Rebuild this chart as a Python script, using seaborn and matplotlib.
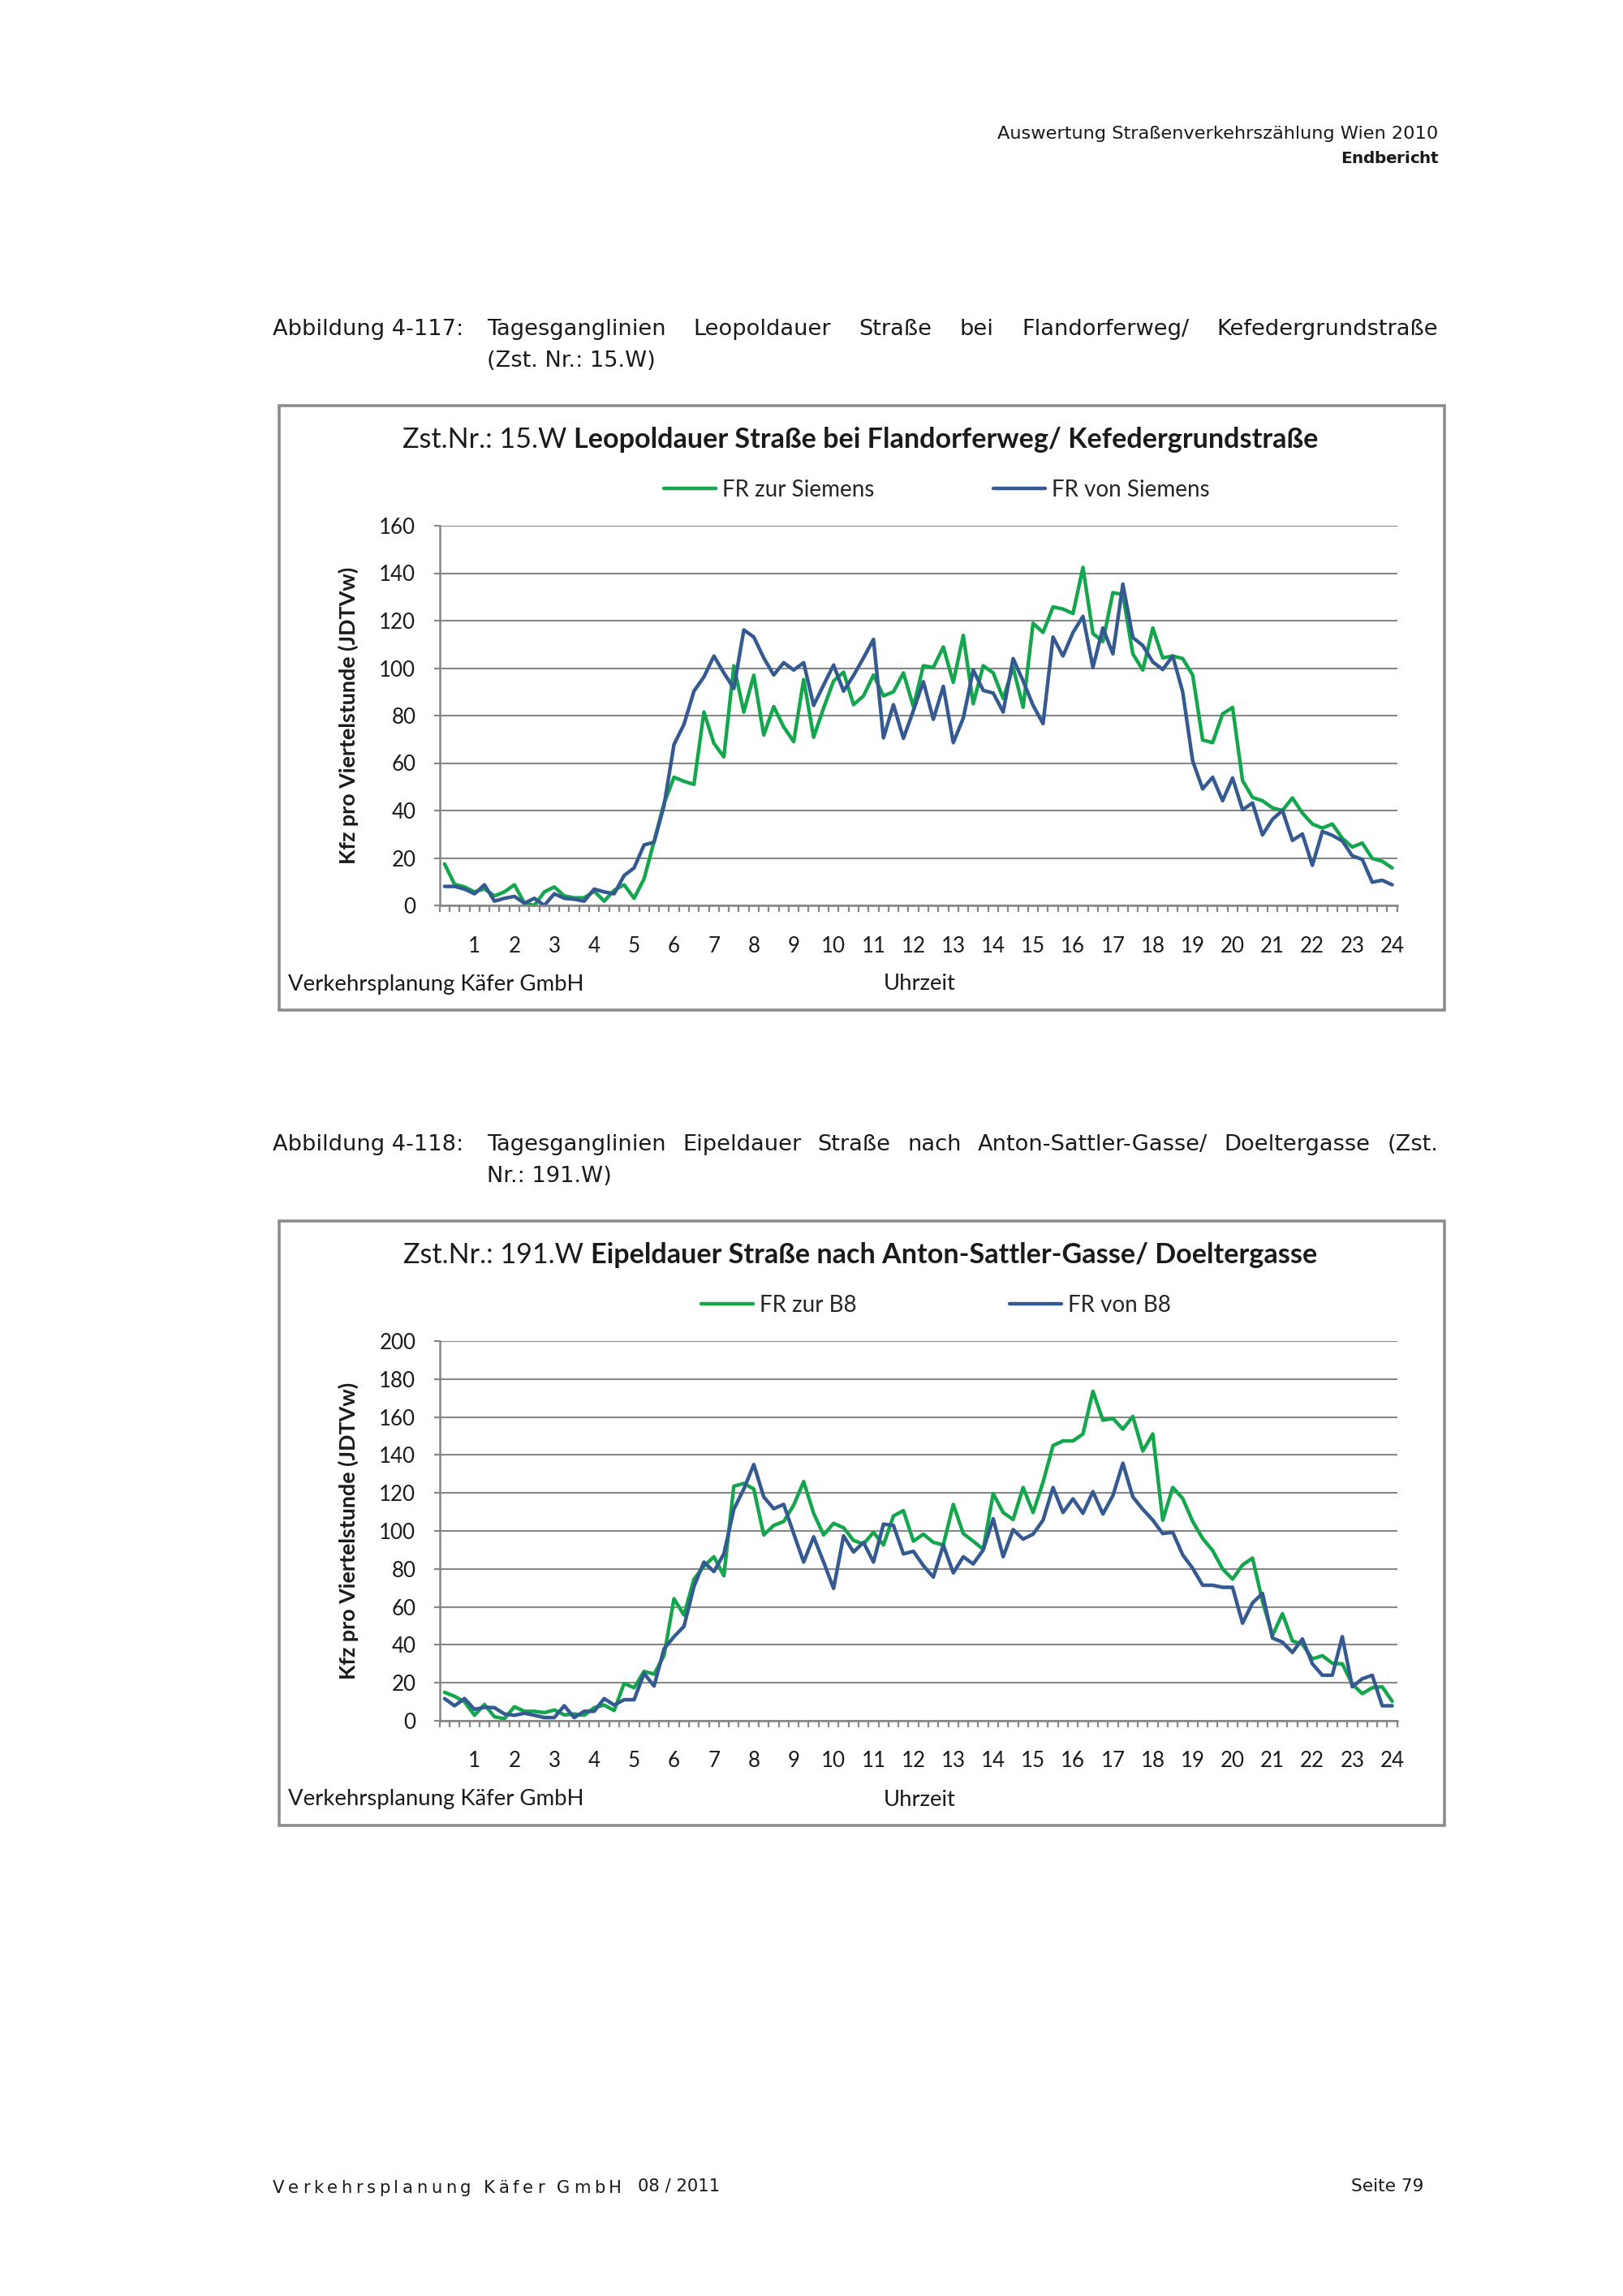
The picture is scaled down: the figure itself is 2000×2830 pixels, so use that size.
import numpy as np
import pandas as pd
import matplotlib
matplotlib.use("Agg")
import matplotlib.pyplot as plt
import seaborn as sns
from matplotlib.patches import Rectangle

# ---------------- data ----------------
hour_labels = ["1", "2", "3", "4", "5", "6", "7", "8", "9", "10", "11", "12",
               "13", "14", "15", "16", "17", "18", "19", "20", "21", "22", "23", "24"]

c1_series = ["FR zur Siemens", "FR von Siemens"]
c1_zur = [17.5, 8.9, 7.8, 5.7, 7, 4, 5.7, 8.7, 1, 0, 5.7, 7.8, 4, 3.2, 3.2, 6,
          1.8, 6.4, 8.7, 3, 11.2, 27, 43, 54, 52.3, 51, 81.5, 68.3, 62.6, 101, 81.5, 97,
          71.8, 83.8, 75.2, 69, 95.2, 70.9, 83.2, 94.6, 98.3, 84.6, 88.3, 97.1, 88.3, 90, 98, 83.8,
          101, 100.3, 108.9, 94, 113.8, 85, 101, 98, 87.2, 100.3, 83.5, 118.9, 115, 125.8, 124.9, 123,
          142.4, 114.6, 111.2, 131.8, 131, 106, 99.2, 116.9, 104.3, 105.1, 104, 97.1, 69.7, 68.6, 80.7, 83.4,
          52.6, 45.5, 44.1, 41.1, 40, 45.3, 38.9, 34.3, 32.6, 34.3, 28.3, 24.6, 26.3, 19.8, 18.6, 15.8]
c1_von = [8, 8, 6.9, 4.9, 8.7, 1.8, 3, 3.8, 0.9, 3, 0, 4.9, 3, 2.6, 1.8, 6.9,
          5.7, 4.9, 12.6, 15.8, 25.5, 26.6, 42, 67.8, 76.3, 90.3, 96.3, 105.1, 98, 91.4, 116.1, 113.1,
          104.3, 97.1, 102.3, 99.2, 102.3, 84.3, 92.9, 101.3, 90.3, 96.9, 104.3, 112.1, 70.6, 84.6, 70.4, 82.1,
          94.3, 78.4, 92.3, 68.6, 78.9, 99.2, 90.6, 89.5, 81.5, 104, 94.6, 84.3, 76.6, 113.1, 105.1, 115,
          121.8, 100.3, 116.9, 106, 135.4, 112.9, 109.5, 102.6, 99.4, 105.1, 90, 60.9, 49.1, 54, 44.1, 53.7,
          40.3, 43.2, 29.7, 36.3, 40, 27.4, 30.1, 16.9, 31.2, 29.5, 27.2, 20.9, 19.4, 9.8, 10.6, 8.7]

c2_series = ["FR zur B8", "FR von B8"]
c2_zur = [15, 12.9, 10, 2.9, 8.6, 2.1, 1.1, 7.4, 5, 5, 4.3, 5.7, 3.1, 3.6, 2.9, 6.9,
          8.3, 5.4, 19.7, 17.4, 26, 24.6, 34.3, 64.3, 55.7, 74.6, 81.4, 86.4, 76.4, 123.6, 125, 122.1,
          97.9, 102.9, 105, 113.6, 126, 109.3, 97.9, 104, 101.7, 95, 93.1, 99.3, 92.6, 107.9, 110.7, 94.6,
          98.3, 94, 92.6, 114, 98.6, 94.6, 90.3, 119.7, 109.7, 106, 122.9, 109.7, 125.7, 145, 147.4, 147.4,
          151.1, 173.6, 158.3, 159.3, 153.6, 160.3, 142.1, 151.1, 105.7, 122.9, 117.1, 105, 96, 89.7, 80, 74.6,
          82.1, 85.7, 62.9, 45, 56.4, 42.1, 40.3, 32.6, 34.3, 30.3, 30, 19.3, 14.3, 17.4, 17.9, 10.3]
c2_von = [11.7, 7.9, 11.7, 6, 7.1, 6.9, 3.6, 2.9, 4, 2.9, 1.7, 1.7, 7.9, 1.7, 5, 5,
          11.7, 8.3, 11.1, 11.1, 25, 18.3, 37.9, 44.3, 49.7, 70.7, 83.6, 78.6, 87.9, 111.4, 122.1, 135,
          117.9, 111.7, 114, 98.6, 83.6, 96.9, 83.6, 69.7, 97.4, 88.9, 94, 83.6, 103.6, 102.9, 87.9, 89.3,
          81.7, 75.7, 92.6, 77.9, 86.4, 82.6, 90, 106.4, 86.4, 100.7, 95.7, 98.3, 105.7, 122.9, 109.7, 116.9,
          109.3, 120.7, 108.9, 118.6, 135.7, 117.9, 111.4, 105.7, 98.6, 99.3, 87.4, 80.3, 71.4, 71.4, 70.3, 70.3,
          51.4, 62.1, 67.1, 43.6, 41.4, 36, 43.1, 30, 24, 24, 44.3, 17.9, 22.1, 24, 7.9, 7.9]

# ---------------- style ----------------
GREEN = "#14A64C"
BLUE = "#355A92"
GRID = "#878787"
TXT = "#1a1a1a"
W, H, DPI = 2000, 2830, 200
PAGE_FONT = ["DejaVu Sans"]
CHART_FONT = ["Lato", "DejaVu Sans"]

sns.set_style("white")
plt.rcParams["font.family"] = CHART_FONT

fig = plt.figure(figsize=(W / DPI, H / DPI), dpi=DPI)
fig.patch.set_facecolor("white")
renderer = fig.canvas.get_renderer()


def fx(px):
    return px / W


def fy(py):
    return 1 - py / H


def em(size):
    return size * DPI / 72.0


def width_px(t):
    return t.get_window_extent(renderer=renderer).width


def base(yc, size):
    return yc + 0.36 * em(size)


def justified(words, x0, x1, yc, size, family):
    yb = base(yc, size)
    ts = [fig.text(0, fy(yb), w, fontsize=size, family=family, va="baseline", ha="left", color=TXT)
          for w in words]
    ws = [width_px(t) for t in ts]
    gap = max((x1 - x0 - sum(ws)) / (len(words) - 1), 0.2 * em(size))
    x = x0
    for t, w in zip(ts, ws):
        t.set_x(fx(x))
        x += w + gap


def tracked(s, x0, x1, yc, size, family, weight="normal"):
    yb = base(yc, size)
    ts, ws = [], []
    for ch in s:
        t = fig.text(0, fy(yb), ch, fontsize=size, family=family, fontweight=weight,
                     va="baseline", ha="left", color=TXT)
        w = 0.3 * em(size) if ch == " " else width_px(t)
        ts.append(t)
        ws.append(w)
    track = (x1 - x0 - sum(ws)) / (len(s) - 1)
    x = x0
    for t, w in zip(ts, ws):
        t.set_x(fx(x))
        x += w + track


def mixed_title(regular, bold, cx, yc, size):
    yb = base(yc, size)
    t1 = fig.text(0, fy(yb), regular, fontsize=size, va="baseline", ha="left", color=TXT)
    t2 = fig.text(0, fy(yb), bold, fontsize=size, fontweight="bold", va="baseline", ha="left", color=TXT)
    w1, w2 = width_px(t1), width_px(t2)
    gap = 0.25 * em(size)
    x0 = cx - (w1 + gap + w2) / 2
    t1.set_x(fx(x0))
    t2.set_x(fx(x0 + w1 + gap))


# ---------------- page header / footer ----------------
fig.text(fx(1772), fy(165), "Auswertung Straßenverkehrszählung Wien 2010", fontsize=8.1,
         family=PAGE_FONT, ha="right", va="center", color=TXT)
tracked("Endbericht", 1652, 1772, 194, 7.2, PAGE_FONT, weight="bold")

tracked("Verkehrsplanung Käfer GmbH", 336, 766, 2695, 7.6, PAGE_FONT)
fig.text(fx(786), fy(2695), "08 / 2011", fontsize=7.6, family=PAGE_FONT, ha="left", va="center", color=TXT)
fig.text(fx(1754), fy(2695), "Seite 79", fontsize=7.8, family=PAGE_FONT, ha="right", va="center", color=TXT)


# ---------------- charts ----------------
def chart(series, zur, von, ymax, caption1, caption_words, caption2, title_reg, title_bold,
          dy, legend_x0, colspace_px):
    cap_fs = 9.8
    fig.text(fx(336), fy(base(403 + dy, cap_fs)), caption1, fontsize=cap_fs, family=PAGE_FONT,
             va="baseline", ha="left", color=TXT)
    justified(caption_words, 600, 1772, 403 + dy, cap_fs, PAGE_FONT)
    fig.text(fx(600), fy(base(442 + dy, cap_fs)), caption2, fontsize=cap_fs, family=PAGE_FONT,
             va="baseline", ha="left", color=TXT)

    # chart frame
    fig.patches.append(Rectangle((fx(344), fy(1245 + dy)), fx(1780) - fx(344), (1245 - 500) / H,
                                 transform=fig.transFigure, facecolor="white",
                                 edgecolor="#8c8c8c", linewidth=1.3, zorder=-5))

    mixed_title(title_reg, title_bold, 1060, 540 + dy, 12.3)

    pl, pr, pt, pb = 541.7, 1721.7, 648 + dy, 1116 + dy
    ax = fig.add_axes([fx(pl), fy(pb), fx(pr) - fx(pl), (pb - pt) / H])
    ax.set_zorder(2)
    ax.set_facecolor("none")

    df = pd.DataFrame({
        "Viertelstunde": np.tile(np.arange(len(zur)), 2),
        "Kfz": np.concatenate([zur, von]),
        "Richtung": [series[0]] * len(zur) + [series[1]] * len(von),
    })
    sns.lineplot(data=df, x="Viertelstunde", y="Kfz", hue="Richtung",
                 palette=[GREEN, BLUE], linewidth=1.6, ax=ax)
    for ln in ax.lines:
        ln.set_clip_on(False)

    n = len(zur)
    ax.set_xlim(-0.5, n - 0.5)
    ax.set_ylim(0, ymax)
    ax.set_yticks(np.arange(0, ymax + 1, 20))
    ax.set_xticks(np.arange(3, n, 4))
    ax.set_xticklabels(hour_labels)
    ax.set_xticks(np.arange(-0.5, n, 1), minor=True)
    ax.set_xlabel("")
    ax.set_ylabel("")
    ax.grid(axis="y", color=GRID, linewidth=0.75)
    ax.set_axisbelow(True)
    for s in ["top", "right"]:
        ax.spines[s].set_visible(False)
    for s in ["left", "bottom"]:
        ax.spines[s].set_color(GRID)
        ax.spines[s].set_linewidth(0.9)
    ax.tick_params(axis="x", which="major", length=0, pad=13.5, labelsize=9.3, labelcolor=TXT)
    ax.tick_params(axis="x", which="minor", length=3, width=0.8, color=GRID, direction="out", bottom=True)
    ax.tick_params(axis="y", which="major", length=2.6, width=0.8, color=GRID, direction="out",
                   pad=8, labelsize=9.3, labelcolor=TXT, left=True)

    # legend
    lab_fs = 10
    tmp = fig.text(0, 0, series[0], fontsize=lab_fs)
    wlab = width_px(tmp)
    tmp.remove()
    handles, labels = ax.get_legend_handles_labels()
    ax.legend(handles, labels, ncol=2, loc="center left",
              bbox_to_anchor=(fx(legend_x0), fy(604 + dy)), bbox_transform=fig.transFigure,
              frameon=False, fontsize=lab_fs, handlelength=64 / em(lab_fs),
              handletextpad=8 / em(lab_fs), borderpad=0, borderaxespad=0,
              columnspacing=(colspace_px - 64 - 8 - wlab) / em(lab_fs))

    # axis titles
    fig.text(fx(429), fy((pt + pb) / 2), "Kfz pro Viertelstunde (JDTVw)", rotation=90,
             fontsize=9.7, fontweight="bold", ha="center", va="center", color=TXT)
    fig.text(fx(355), fy(1213 + dy), "Verkehrsplanung Käfer GmbH", fontsize=9.9,
             ha="left", va="center", color=TXT)
    fig.text(fx(1133), fy(1213 + dy), "Uhrzeit", fontsize=9.9, ha="center", va="center",
             color=TXT)


chart(c1_series, c1_zur, c1_von, 160,
      "Abbildung 4-117:",
      ["Tagesganglinien", "Leopoldauer", "Straße", "bei", "Flandorferweg/", "Kefedergrundstraße"],
      "(Zst. Nr.: 15.W)",
      "Zst.Nr.: 15.W", "Leopoldauer Straße bei Flandorferweg/ Kefedergrundstraße",
      0, 818, 1224 - 818)

chart(c2_series, c2_zur, c2_von, 200,
      "Abbildung 4-118:",
      ["Tagesganglinien", "Eipeldauer", "Straße", "nach", "Anton-Sattler-Gasse/", "Doeltergasse", "(Zst."],
      "Nr.: 191.W)",
      "Zst.Nr.: 191.W", "Eipeldauer Straße nach Anton-Sattler-Gasse/ Doeltergasse",
      1005, 864, 1244 - 864)

fig.savefig("out.png", dpi=DPI, facecolor="white")
